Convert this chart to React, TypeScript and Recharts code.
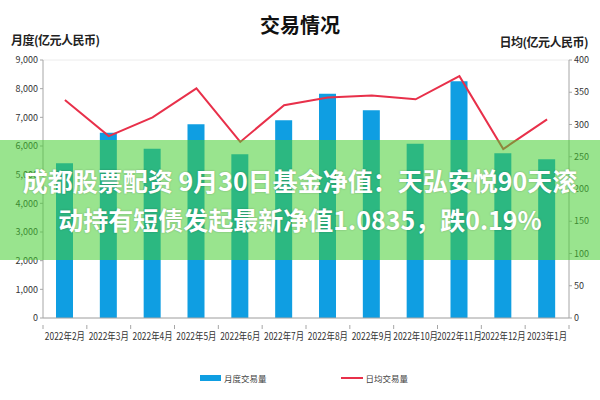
import React from 'react'
import {
  Bar,
  CartesianGrid,
  ComposedChart,
  Legend,
  Line,
  XAxis,
  YAxis,
} from 'recharts'

const months = [
  '2022年2月',
  '2022年3月',
  '2022年4月',
  '2022年5月',
  '2022年6月',
  '2022年7月',
  '2022年8月',
  '2022年9月',
  '2022年10月',
  '2022年11月',
  '2022年12月',
  '2023年1月',
]
const monthlyVolume = [5400, 6460, 5900, 6760, 5710, 6900, 7820, 7250, 6080, 8260, 5750, 5540]
const dailyAverage = [338, 282, 311, 356, 273, 330, 342, 345, 339, 375, 262, 308]
const leftTicks = [0, 1000, 2000, 3000, 4000, 5000, 6000, 7000, 8000, 9000]
const rightTicks = [0, 50, 100, 150, 200, 250, 300, 350, 400]

const data = months.map((month, i) => ({
  month,
  volume: monthlyVolume[i],
  daily: dailyAverage[i],
}))

const WIDTH = 600
const HEIGHT = 400
const LEFT_AXIS_W = 43
const RIGHT_AXIS_W = 31
const BAND = (WIDTH - LEFT_AXIS_W - RIGHT_AXIS_W) / months.length

const BLUE = '#0f9ee2'
const RED = '#e8304a'
const AXIS = '#a6a6a6'
const FONT = '"Noto Sans CJK SC", "Noto Sans", sans-serif'

function MonthTick(props: any) {
  const { x, y, payload, index } = props
  const half = BAND / 2
  return (
    <g>
      <line x1={x - half} y1={y - 1} x2={x - half} y2={y + 3} stroke={AXIS} />
      {index === months.length - 1 && (
        <line x1={x + half} y1={y - 1} x2={x + half} y2={y + 3} stroke={AXIS} />
      )}
      <g transform={`translate(${x},${y + 14})`}>
        <text
          transform="scale(0.8,1)"
          textAnchor="middle"
          fontSize={10.5}
          fill="#333"
          fontFamily={FONT}
        >
          {payload.value}
        </text>
      </g>
    </g>
  )
}

function LegendContent() {
  return (
    <div
      style={{
        display: 'flex',
        justifyContent: 'center',
        alignItems: 'center',
        fontFamily: FONT,
        fontSize: 8.5,
        color: '#444',
      }}
    >
      <span style={{ display: 'inline-block', width: 21, height: 6, background: BLUE, marginRight: 3 }} />
      <span style={{ marginRight: 74 }}>月度交易量</span>
      <span style={{ display: 'inline-block', width: 22, height: 2, background: RED, marginRight: 3 }} />
      <span>日均交易量</span>
    </div>
  )
}

export default function App() {
  return (
    <div style={{ position: 'absolute', left: 0, top: 0, width: WIDTH, height: HEIGHT, background: '#fff', overflow: 'hidden' }}>
      <ComposedChart
        width={WIDTH}
        height={HEIGHT}
        data={data}
        margin={{ top: 60, right: 0, left: 0, bottom: 52 }}
      >
        <CartesianGrid stroke="#ececec" vertical={false} />
        <XAxis
          dataKey="month"
          interval={0}
          height={30}
          tickLine={false}
          stroke={AXIS}
          tick={<MonthTick />}
        />
        <YAxis
          yAxisId="left"
          domain={[0, 9000]}
          ticks={leftTicks}
          width={LEFT_AXIS_W}
          stroke={AXIS}
          tickSize={3}
          tick={{ fontSize: 9, fill: '#333', fontFamily: FONT }}
          tickFormatter={(v: number) => v.toLocaleString('en-US')}
        />
        <YAxis
          yAxisId="right"
          orientation="right"
          domain={[0, 400]}
          ticks={rightTicks}
          width={RIGHT_AXIS_W}
          stroke={AXIS}
          tickSize={3}
          tick={{ fontSize: 9, fill: '#333', fontFamily: FONT }}
        />
        <Bar yAxisId="left" dataKey="volume" fill={BLUE} barSize={17} isAnimationActive={false} name="月度交易量" />
        <Line
          yAxisId="right"
          dataKey="daily"
          type="linear"
          stroke={RED}
          strokeWidth={2}
          dot={false}
          activeDot={false}
          isAnimationActive={false}
          name="日均交易量"
        />
        <Legend
          verticalAlign="middle"
          align="center"
          content={<LegendContent />}
          wrapperStyle={{ top: 372, left: 4, width: WIDTH }}
        />
      </ComposedChart>

      <div style={{ position: 'absolute', left: 0, top: 10, width: WIDTH, textAlign: 'center', fontFamily: FONT, fontWeight: 700, fontSize: 20, color: '#111' }}>
        交易情况
      </div>
      <div style={{ position: 'absolute', left: 11, top: 31, fontFamily: FONT, fontWeight: 700, fontSize: 12, color: '#222', letterSpacing: -0.5 }}>
        月度(亿元人民币)
      </div>
      <div style={{ position: 'absolute', right: 12, top: 33, fontFamily: FONT, fontWeight: 700, fontSize: 12, color: '#222', letterSpacing: -0.5 }}>
        日均(亿元人民币)
      </div>

      <div
        style={{
          position: 'absolute',
          left: 0,
          top: 140,
          width: WIDTH,
          height: 120,
          background: 'rgba(70, 205, 50, 0.55)',
          display: 'flex',
          flexDirection: 'column',
          justifyContent: 'center',
          alignItems: 'center',
          fontFamily: FONT,
          fontWeight: 700,
          fontSize: 25,
          lineHeight: '39px',
          color: '#fff',
          textShadow: '0 0 2px rgba(0,0,0,0.25)',
          whiteSpace: 'nowrap',
        }}
      >
        <div>成都股票配资 9月30日基金净值：天弘安悦90天滚</div>
        <div>动持有短债发起最新净值1.0835，跌0.19%</div>
      </div>
    </div>
  )
}
